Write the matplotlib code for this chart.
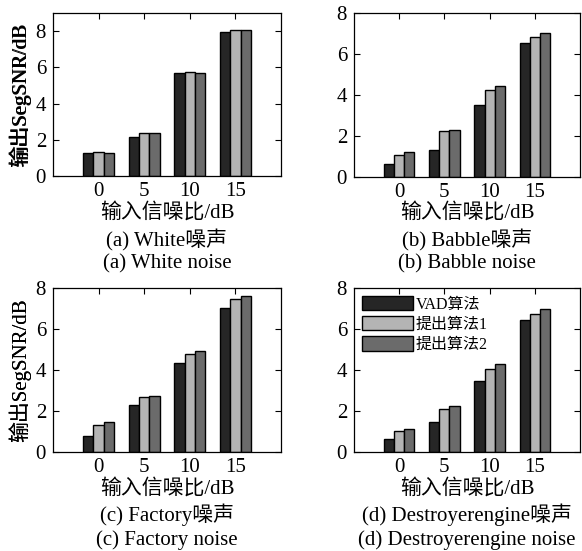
import matplotlib
matplotlib.use("Agg")
import matplotlib.pyplot as plt
import numpy as np

plt.rcParams['font.family'] = ['Liberation Serif', 'Noto Sans CJK SC']
plt.rcParams['axes.unicode_minus'] = False

categories = ['0', '5', '10', '15']
series_names = ['VAD算法', '提出算法1', '提出算法2']

white_vad = [1.27, 2.16, 5.66, 7.93]
white_p1 = [1.35, 2.36, 5.73, 8.06]
white_p2 = [1.27, 2.36, 5.66, 8.06]

babble_vad = [0.62, 1.33, 3.51, 6.55]
babble_p1 = [1.09, 2.24, 4.24, 6.85]
babble_p2 = [1.22, 2.31, 4.42, 7.02]

factory_vad = [0.80, 2.29, 4.34, 7.04]
factory_p1 = [1.33, 2.70, 4.76, 7.48]
factory_p2 = [1.45, 2.75, 4.91, 7.61]

destroyer_vad = [0.62, 1.45, 3.45, 6.42]
destroyer_p1 = [1.02, 2.11, 4.03, 6.73]
destroyer_p2 = [1.14, 2.23, 4.28, 6.96]

captions_cn = ['(a) White噪声', '(b) Babble噪声', '(c) Factory噪声', '(d) Destroyerengine噪声']
captions_en = ['(a) White noise', '(b) Babble noise', '(c) Factory noise', '(d) Destroyerengine noise']
xlabel = '输入信噪比/dB'
ylabel = '输出SegSNR/dB'

colors = ['#262626', '#b4b4b4', '#6b6b6b']

W, H = 582, 551
fig = plt.figure(figsize=(W / 100, H / 100), dpi=100)

# pixel boxes: left, top, right, bottom
boxes = [(53, 13, 281, 176), (354, 13, 580, 177), (53, 288, 281, 452), (354, 288, 580, 452)]
ylims = [9, 8, 8, 8]
data = [
    (white_vad, white_p1, white_p2),
    (babble_vad, babble_p1, babble_p2),
    (factory_vad, factory_p1, factory_p2),
    (destroyer_vad, destroyer_p1, destroyer_p2),
]

fs = 15
x = np.arange(1, len(categories) + 1)
bw = 0.225
for i, (box, ymax, series) in enumerate(zip(boxes, ylims, data)):
    l, t, r, b = box
    ax = fig.add_axes([l / W, 1 - b / H, (r - l) / W, (b - t) / H])
    for j, vals in enumerate(series):
        ax.bar(x + (j - 1) * bw, vals, width=bw, color=colors[j], edgecolor='black',
               linewidth=1.0, label=series_names[j], zorder=2)
    ax.set_xlim(0, 5)
    ax.set_ylim(0, ymax)
    ax.set_xticks(x)
    ax.set_xticklabels(categories)
    ax.set_yticks([0, 2, 4, 6, 8])
    ax.tick_params(direction='in', top=True, right=True, length=4, width=0.8,
                   labelsize=fs)
    ax.tick_params(axis='x', pad=4)
    ax.tick_params(axis='y', pad=5)
    for s in ax.spines.values():
        s.set_linewidth(0.9)
    ax.set_xlabel(xlabel, fontsize=fs, va='center')
    ax.xaxis.set_label_coords(0.5, (b - 213) / (b - t) if i < 2 else (b - 489) / (b - t))
    ax.set_ylabel(ylabel, fontsize=fs, va='center')
    ax.yaxis.set_label_coords((20 - l) / (r - l), 0.5)
    cx = (l + r) / 2 / W
    y1 = 240 if i < 2 else 515
    y2 = 264 if i < 2 else 540
    fig.text(cx, 1 - y1 / H, captions_cn[i], ha='center', va='center', fontsize=fs)
    fig.text(cx, 1 - y2 / H, captions_en[i], ha='center', va='center', fontsize=fs)
    if i == 3:
        ax.legend(loc='upper left', frameon=False, fontsize=11.5, handlelength=3.2,
                  handleheight=1.0, handletextpad=0.15, labelspacing=0.22,
                  borderaxespad=0.3, borderpad=0.2)

fig.savefig('out.png', dpi=100)
